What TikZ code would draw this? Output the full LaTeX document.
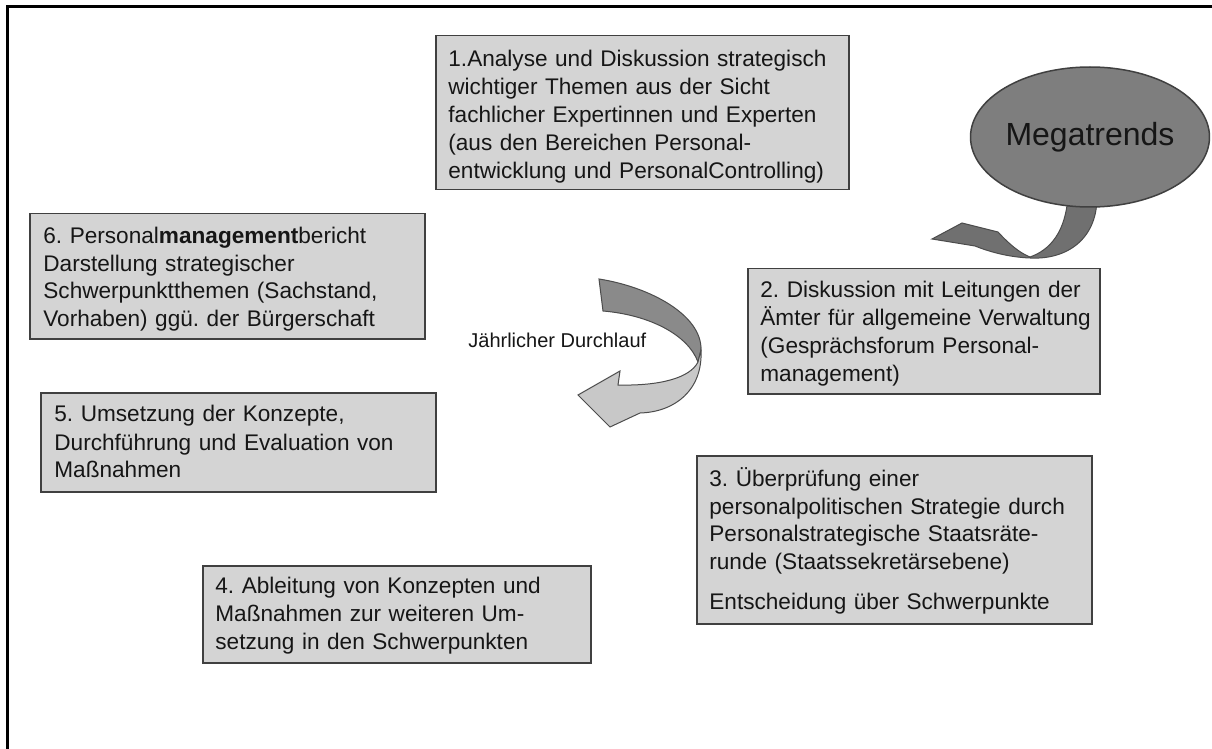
\documentclass[tikz,border=0pt]{standalone}
\usepackage{fontspec}
\setmainfont{Liberation Sans}
\frenchspacing
\usetikzlibrary{shapes.geometric}
\definecolor{H}{RGB}{212, 212, 212}
\definecolor{E}{RGB}{126, 126, 126}
\definecolor{P}{RGB}{112, 112, 112}
\definecolor{D}{RGB}{138, 138, 138}
\definecolor{L}{RGB}{200, 200, 200}
\definecolor{T}{RGB}{22, 22, 22}

\begin{document}
\begin{tikzpicture}[x=0.5pt, y=-0.5pt,
    kasten/.style={draw=black!75, line width=0.75pt, fill=H, anchor=north west, inner sep=0pt},
    schrift/.style={anchor=base west, align=left, inner sep=0pt, text width=240pt, text=T, font=\fontsize{11.3}{14}\selectfont}]
    \useasboundingbox (0,0) rectangle (1212,749);
    \fill[white] (0,0) rectangle (1212,749);
    %Rahmen
    \draw[line width=1.5pt] (7,749) -- (7,7) -- (1212,7);

    %Pfeil von Megatrends (vor der Ellipse)
    \filldraw[fill=P, draw=black!70, line width=0.5pt] (1068,195) -- (1097,195)
        .. controls (1098,238) and (1068,260) .. (1030,258)
        .. controls (1005,257) and (985,250) .. (975,246) -- (932,239) -- (962,223) -- (998,232)
        .. controls (1010,245) and (1020,253) .. (1030,257)
        .. controls (1050,250) and (1066,232) .. (1068,195) -- cycle;

    %Megatrends
    \node[ellipse, draw=black!75, line width=0.75pt, fill=E, inner sep=0pt,
        minimum width=112pt, minimum height=70pt, text=T, font=\fontsize{16}{18}\selectfont]
        (mega) at (1090,137) {Megatrends};

    %Kasten 1
    \node[kasten, minimum width=206.5pt, minimum height=77pt] (k1) at (435,35) {};
    \node[schrift] (t1) at ([shift={(6.5pt,-16pt)}]k1.north west)
        {1.Analyse und Diskussion strategisch\\wichtiger Themen aus der Sicht\\fachlicher Expertinnen und Experten\\(aus den Bereichen Personal-\\entwicklung und PersonalControlling)};

    %Kasten 2
    \node[kasten, minimum width=176pt, minimum height=62.5pt] (k2) at (747,268) {};
    \node[schrift] (t2) at ([shift={(6.5pt,-15pt)}]k2.north west)
        {2. Diskussion mit Leitungen der\\Ämter für allgemeine Verwaltung\\(Gesprächsforum Personal-\\management)};

    %Kasten 3
    \node[kasten, minimum width=197.5pt, minimum height=84pt] (k3) at (696,455) {};
    \node[schrift] (t3) at ([shift={(6.5pt,-15.5pt)}]k3.north west)
        {3. Überprüfung einer\\personalpolitischen Strategie durch\\Personalstrategische Staatsräte-\\runde (Staatssekretärsebene)\\[6pt]Entscheidung über Schwerpunkte};

    %Kasten 4
    \node[kasten, minimum width=194pt, minimum height=48.5pt] (k4) at (202,565) {};
    \node[schrift] (t4) at ([shift={(6.5pt,-14pt)}]k4.north west)
        {4. Ableitung von Konzepten und\\Maßnahmen zur weiteren Um-\\setzung in den Schwerpunkten};

    %Kasten 5
    \node[kasten, minimum width=197.5pt, minimum height=49.5pt] (k5) at (40,392) {};
    \node[schrift] (t5) at ([shift={(7pt,-15pt)}]k5.north west)
        {5. Umsetzung der Konzepte,\\Durchführung und Evaluation von\\Maßnahmen};

    %Kasten 6
    \node[kasten, minimum width=197.5pt, minimum height=62.5pt] (k6) at (29,213) {};
    \node[schrift] (t6) at ([shift={(7pt,-15pt)}]k6.north west)
        {6. Personal\textbf{management}bericht\\Darstellung strategischer\\Schwerpunktthemen (Sachstand,\\Vorhaben) ggü. der Bürgerschaft};

    %Jaehrlicher Durchlauf: Band oben dunkel, unten hell
    \filldraw[fill=D, draw=black!70, line width=0.5pt] (599,279)
        .. controls (650,287) and (702,315) .. (701,350) -- (698,362)
        .. controls (688,335) and (650,315) .. (603,311) -- cycle;
    \filldraw[fill=L, draw=black!70, line width=0.5pt] (701,350)
        .. controls (703,390) and (675,412) .. (640,413) -- (610,427) -- (578,395) -- (620,371) -- (618,385)
        .. controls (660,386) and (690,378) .. (698,362) -- cycle;
    \node[anchor=base west, inner sep=0pt, text=T, font=\fontsize{10}{12}\selectfont]
        (lauf) at (468,347) {Jährlicher Durchlauf};
\end{tikzpicture}
\end{document}
